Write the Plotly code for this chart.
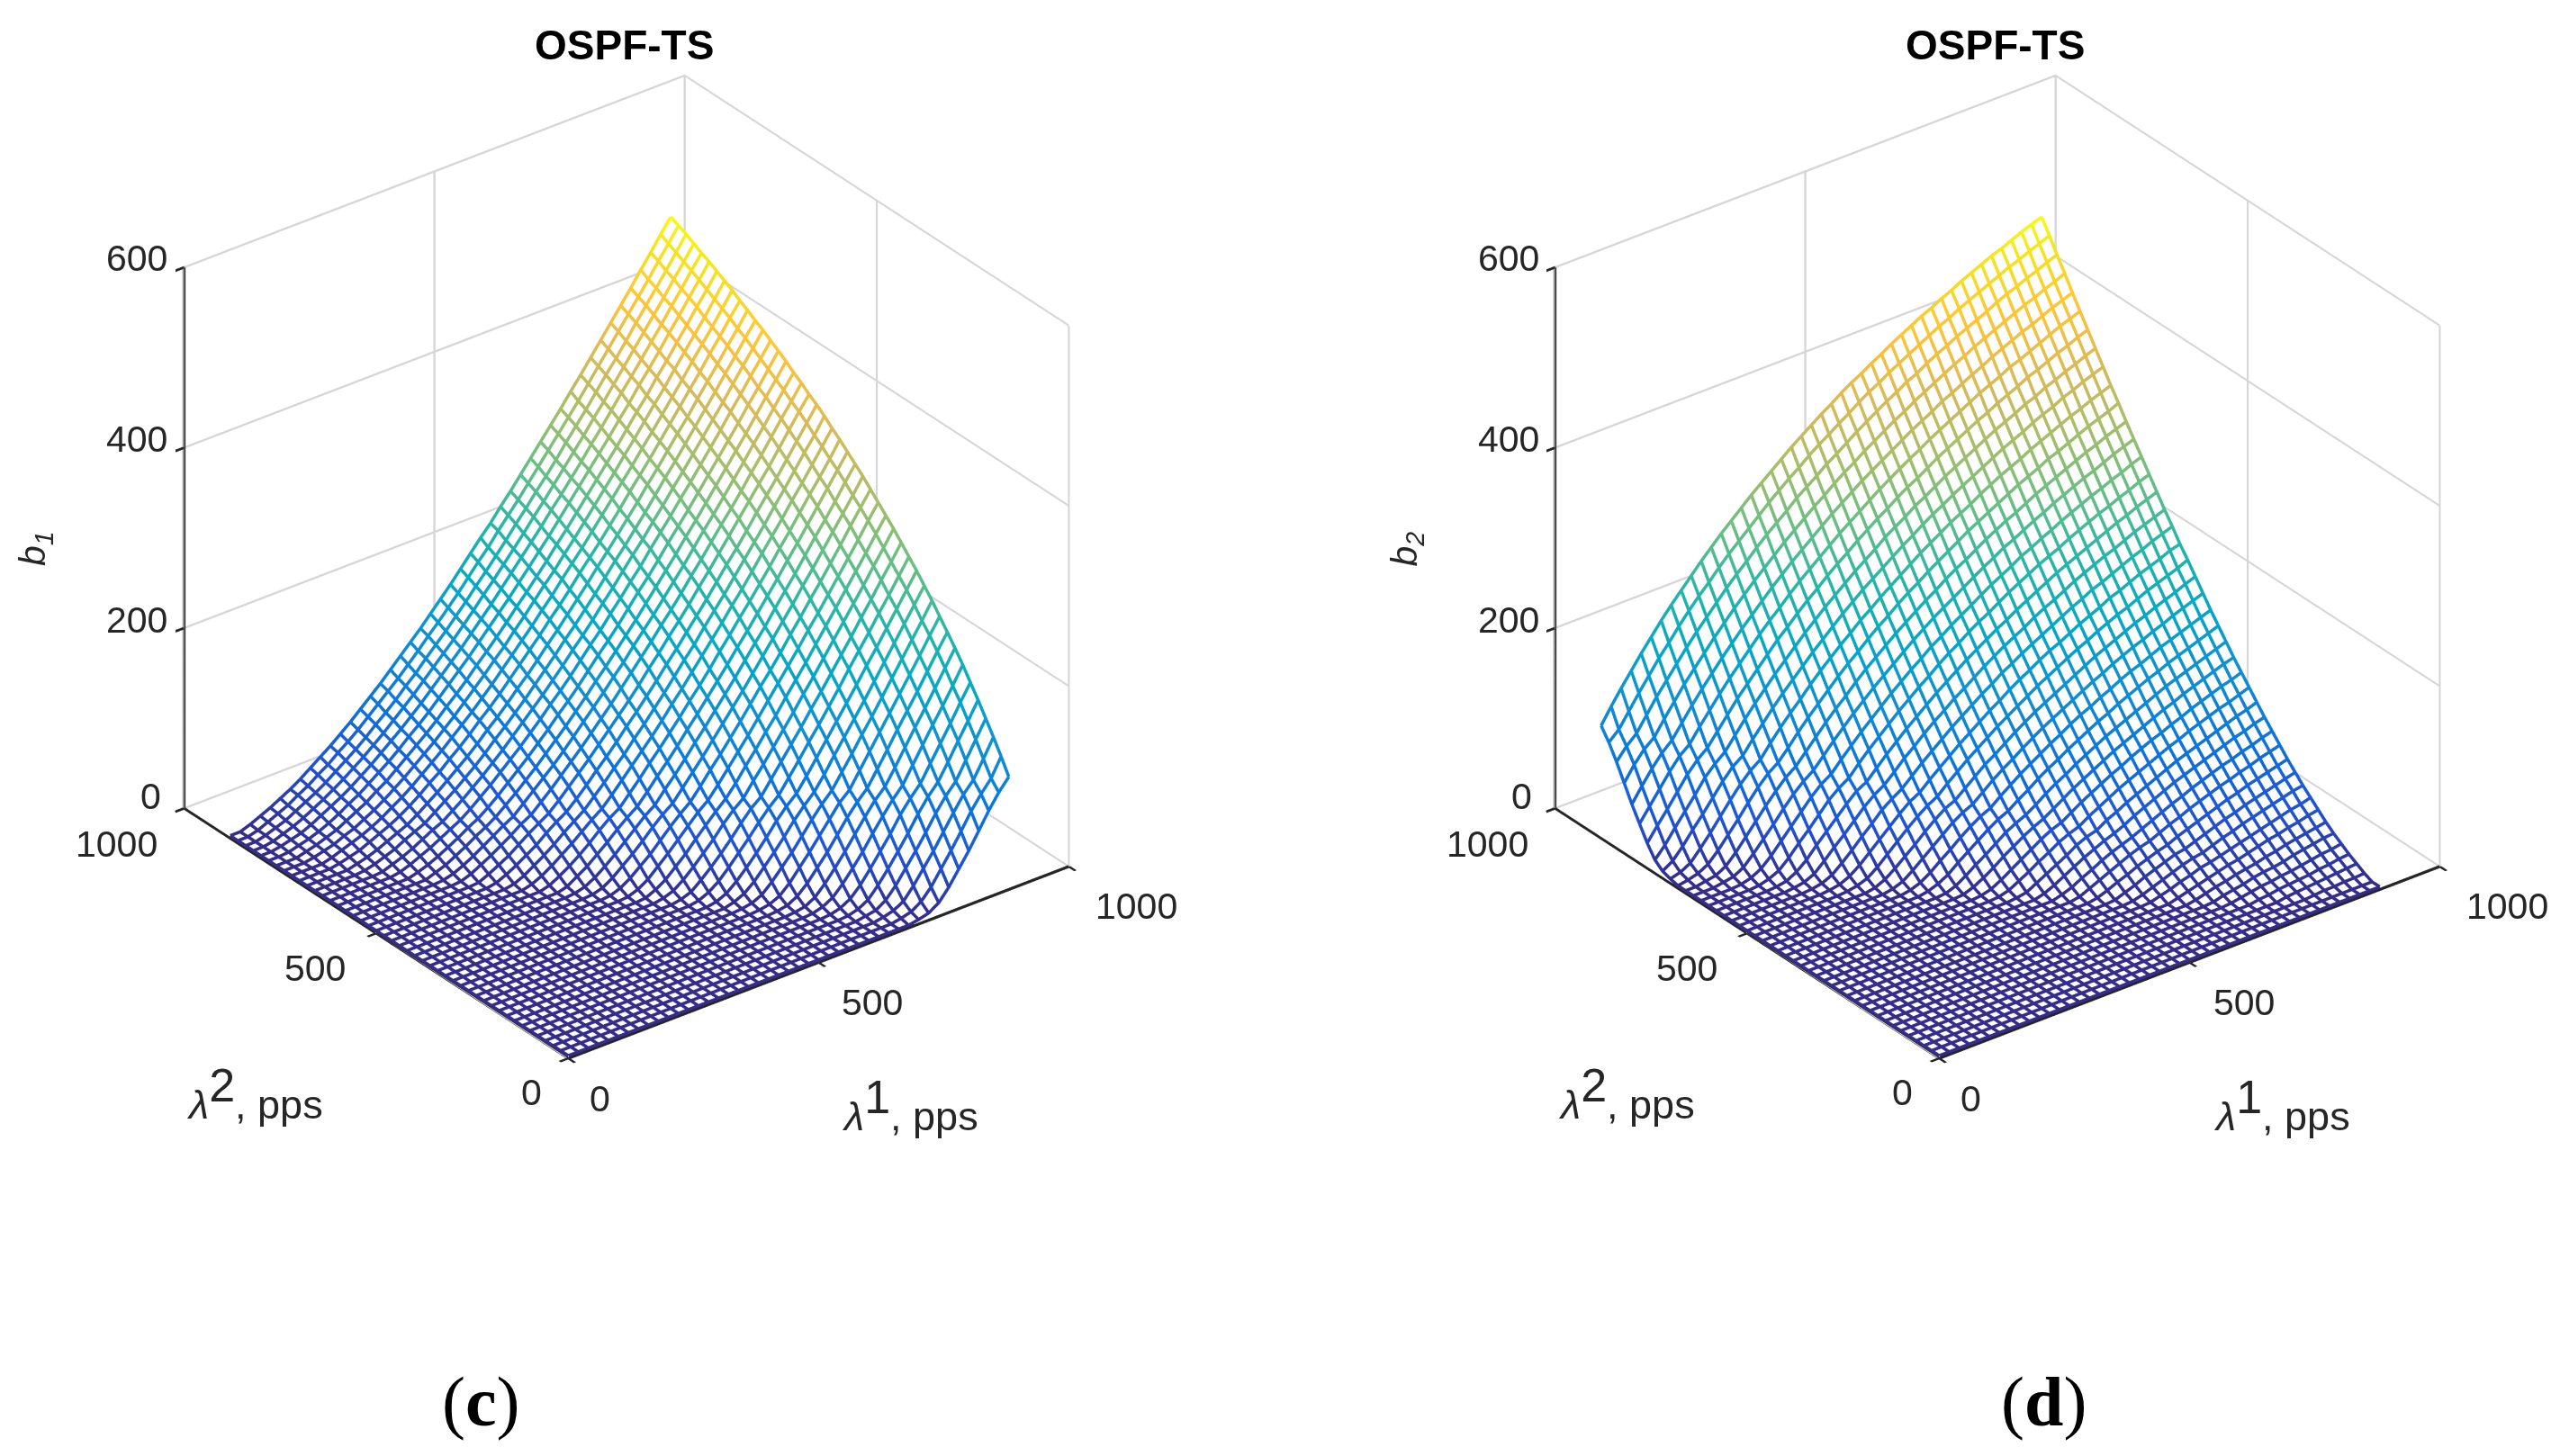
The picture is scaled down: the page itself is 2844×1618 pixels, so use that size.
import numpy as np
import plotly.graph_objects as go

# grid of offered loads, pps
lambda_1 = list(range(0, 900, 20))
lambda_2 = list(range(0, 900, 20))
FLOOR = 3

# b1, one row per lambda_2 value; each row gives the end of the row
# (towards lambda_1 = 880); everything before it lies on the flat floor of the surface.
b1_rows = [
[5,8,15,28,44,60,78,96,112,125],
[5,8,15,27,43,59,76,94,109,122,142],
[5,8,14,27,42,57,74,91,107,119,138,158],
[5,7,14,26,41,56,72,89,104,116,135,154,173],
[4,7,13,25,39,54,70,87,102,114,132,151,169,188],
[4,7,13,24,38,53,68,85,99,111,129,147,165,184,202],
[4,7,13,24,37,51,67,82,96,108,126,144,162,179,197,216],
[4,6,12,23,36,50,65,80,94,105,122,140,158,175,193,211,229],
[4,6,12,22,35,48,63,78,91,102,119,136,154,171,188,206,224,241],
[4,6,11,21,34,47,61,75,89,99,116,133,150,167,184,201,218,236,253],
[4,6,11,21,33,45,59,73,86,97,113,129,146,162,179,196,213,230,247,265],
[6,11,20,32,44,57,71,83,94,109,126,142,158,174,191,208,225,242,259,276],
[5,10,19,30,42,55,69,81,91,106,122,138,154,170,186,203,219,236,253,270,287],
[5,10,18,29,41,53,66,78,88,103,118,134,149,165,181,198,214,230,247,263,280,297],
[5,9,18,28,39,51,64,76,85,100,115,130,145,161,176,192,208,224,241,257,274,290,307],
[5,9,17,27,38,49,62,73,82,97,111,126,141,156,172,187,203,219,235,251,267,284,300,317],
[4,9,16,26,36,48,59,70,80,93,108,122,137,151,167,182,197,213,229,245,261,277,293,310,326],
[4,8,15,25,35,46,57,68,77,90,104,118,132,147,162,177,192,207,223,238,254,270,286,302,319,335],
[4,8,15,24,33,44,55,65,74,87,101,114,128,142,157,172,186,201,217,232,248,263,279,295,312,328,344],
[4,7,14,23,32,42,53,63,71,84,97,110,124,138,152,166,181,196,211,226,241,257,272,288,304,320,336,353],
[4,7,13,21,30,40,50,60,68,81,93,106,120,133,147,161,175,190,205,219,235,250,265,281,297,312,328,345,361],
[6,13,20,29,38,48,57,65,77,90,102,115,129,142,156,170,184,199,213,228,243,258,274,289,305,321,337,353,369],
[6,12,19,27,36,46,55,62,74,86,99,111,124,137,151,164,178,193,207,222,236,251,266,282,297,313,329,344,360,377],
[6,11,18,26,34,43,52,60,71,83,95,107,119,132,146,159,173,187,201,215,230,244,259,275,290,305,321,336,352,368,384],
[5,10,17,24,32,41,49,57,68,79,91,102,115,127,140,153,167,181,194,209,223,237,252,267,282,297,313,328,344,360,375,392],
[5,10,16,23,30,39,47,54,64,75,87,98,110,123,135,148,161,175,188,202,216,230,245,260,274,289,305,320,335,351,367,383,399],
[4,9,15,21,29,37,44,51,61,72,83,94,106,118,130,142,155,169,182,196,209,223,238,252,267,282,297,312,327,342,358,374,390,405],
[4,8,14,20,27,34,42,48,58,68,79,90,101,113,125,137,150,163,176,189,203,216,230,245,259,274,289,303,318,334,349,365,381,396,412],
[4,7,12,18,25,32,39,45,55,65,75,85,96,108,120,132,144,157,169,183,196,209,223,237,251,266,281,295,310,325,340,356,371,387,403,418],
[7,11,17,23,30,36,43,52,61,71,81,92,103,114,126,138,151,163,176,189,202,216,230,244,258,273,287,302,317,332,347,362,378,394,409,425],
[6,10,15,21,27,34,40,48,57,67,77,87,98,109,121,132,144,157,170,182,195,209,223,236,250,265,279,293,308,323,338,353,368,384,399,415,431],
[5,9,14,19,25,31,37,45,54,63,73,83,93,104,115,127,138,150,163,176,188,202,215,229,242,257,271,285,300,314,329,344,359,375,390,406,421,437],
[4,8,12,17,23,29,34,42,50,59,68,78,88,99,110,121,132,144,156,169,181,194,208,221,235,249,262,277,291,306,320,335,350,365,380,396,412,427,443],
[4,7,11,15,21,26,31,39,47,55,64,73,83,94,104,115,126,138,150,162,175,187,200,213,227,241,254,268,282,297,312,326,341,356,371,386,402,417,433,448],
[6,9,13,18,23,28,35,43,51,60,69,78,88,99,109,120,132,143,155,168,180,193,206,219,233,246,260,274,288,303,317,332,347,361,377,392,407,423,438,454],
[5,8,11,16,21,26,32,39,47,56,64,74,83,93,104,114,125,137,149,161,173,186,198,211,225,238,251,265,279,294,308,322,337,352,367,382,397,413,428,444,459],
[6,10,14,18,23,29,36,43,51,60,69,78,88,98,108,119,130,142,154,166,178,191,203,217,230,243,257,271,285,299,313,328,342,357,372,387,403,418,433,449,465],
[5,8,11,16,20,26,32,39,47,55,64,73,82,92,102,113,124,135,147,158,171,183,196,209,221,235,248,262,276,290,304,319,333,348,363,377,393,408,423,438,454,470],
[6,9,13,17,23,29,35,43,50,59,68,77,86,96,107,117,128,140,151,163,175,188,200,213,226,240,253,267,281,295,309,323,338,353,367,383,397,413,428,444,459,475],
[4,7,10,14,19,25,32,38,46,54,62,71,81,90,100,111,122,133,144,156,168,180,192,205,218,231,244,258,272,286,300,314,328,343,357,373,387,402,418,433,449,464,480],
[5,8,11,16,22,28,34,41,49,57,66,75,84,94,104,115,126,137,148,160,172,184,197,210,223,236,249,263,276,290,304,319,333,348,363,377,392,407,422,438,453,469,484],
[5,9,13,18,24,30,37,44,52,60,69,78,88,98,108,119,130,141,152,164,176,189,201,214,227,240,254,267,281,295,309,323,338,352,367,382,397,412,427,442,458,473,489],
[6,10,14,20,26,32,39,47,55,63,72,82,91,101,112,122,134,145,156,168,180,193,205,218,231,245,258,272,285,299,314,328,342,357,372,386,401,417,432,447,462,478,494],
[6,11,16,21,28,34,42,49,58,66,75,85,95,105,115,126,137,149,160,172,184,197,210,222,236,249,262,276,290,304,318,332,346,361,376,391,406,421,436,451,467,482,498],
[7,12,17,23,29,36,44,52,60,69,78,88,98,108,119,130,141,152,164,176,188,201,214,227,239,253,266,280,294,308,322,336,351,365,380,395,410,425,440,456,471,487,502],
]

x_ticks = [0, 500, 1000]
y_ticks = [0, 500, 1000]
z_ticks = [0, 200, 400, 600]

b1 = np.array([[FLOOR] * (len(lambda_1) - len(r)) + r for r in b1_rows], dtype=float)
b2 = b1.T  # panel (d) reads as the mirror of panel (c)

PARULA = [
    [0.000, "rgb(53,42,135)"], [0.095, "rgb(32,83,212)"], [0.190, "rgb(13,117,220)"],
    [0.286, "rgb(16,142,210)"], [0.381, "rgb(6,167,198)"], [0.476, "rgb(37,181,169)"],
    [0.571, "rgb(101,190,134)"], [0.667, "rgb(165,190,107)"], [0.762, "rgb(217,186,86)"],
    [0.857, "rgb(255,195,55)"], [0.952, "rgb(245,228,29)"], [1.000, "rgb(249,251,14)"],
]
WHITE = [[0, "white"], [1, "white"]]
FONT = "Liberation Sans"
INK = "#262626"
W, H = 2844, 1618


def mesh_traces(z, scene):
    xs, ys, zs = [], [], []
    for j, yv in enumerate(lambda_2):
        xs += lambda_1 + [None]
        ys += [yv] * len(lambda_1) + [None]
        zs += list(z[j]) + [None]
    for i, xv in enumerate(lambda_1):
        xs += [xv] * len(lambda_2) + [None]
        ys += lambda_2 + [None]
        zs += list(z[:, i]) + [None]
    colors = [0 if v is None else v for v in zs]
    return [
        go.Surface(x=lambda_1, y=lambda_2, z=z - 1.5, scene=scene, colorscale=WHITE, showscale=False,
                   lighting=dict(ambient=1, diffuse=0, specular=0, fresnel=0, roughness=1),
                   hoverinfo="skip"),
        go.Scatter3d(x=xs, y=ys, z=zs, scene=scene, mode="lines", hoverinfo="skip", showlegend=False,
                     line=dict(width=7, color=colors, colorscale=PARULA, cmin=0, cmax=502)),
    ]


def axis(rng, ticks):
    return dict(range=rng, tickmode="array", tickvals=ticks, showticklabels=False,
                title=dict(text=""), showbackground=False, showgrid=True, gridcolor="#d6d6d6",
                gridwidth=5, zeroline=False, showline=True, linecolor=INK, linewidth=7,
                ticks="outside", ticklen=12, tickwidth=6, tickcolor=INK, showspikes=False)


def scene_layout(domain_x):
    k = 1.127
    return dict(
        domain=dict(x=domain_x, y=[(H - 1244) / H, 1]),
        xaxis=axis([0, 1000], x_ticks), yaxis=axis([0, 1000], y_ticks), zaxis=axis([0, 600], z_ticks),
        aspectmode="manual", aspectratio=dict(x=k, y=k, z=0.99 * k),
        camera=dict(eye=dict(x=-0.947, y=-1.234, z=0.897), up=dict(x=0, y=0, z=1),
                    center=dict(x=0, y=0, z=0), projection=dict(type="orthographic")),
    )


def label(text, x, y, size=41, family=FONT, angle=0, color=INK):
    # x, y given in pixels of the 2844x1618 page
    return dict(text=text, x=x / W, y=1 - y / H, xref="paper", yref="paper", showarrow=False,
                xanchor="center", yanchor="middle", textangle=angle,
                font=dict(family=family, size=size, color=color))


def lam(n):
    return f'<i>λ</i><sup><span style="font-size:52px">{n}</span></sup>, pps'


# tick label anchors on the page, shown once per panel
tick_labels = [
    ("600", 144, 279), ("400", 144, 480), ("200", 144, 681), ("0", 159, 877),
    ("1000", 121, 930), ("500", 342, 1068), ("0", 582, 1206),
    ("0", 658, 1213), ("500", 961, 1106), ("1000", 1254, 999),
]

annotations = []
for dx, sub in [(0, "1"), (1523.6, "2")]:
    annotations += [
        label("<b>OSPF-TS</b>", 685 + dx, 42, size=46, color="black"),
        label(f"<i>b<sub>{sub}</sub></i>", 31 + dx, 602, angle=-90),
        label(lam(1), 1003 + dx, 1220, size=45),
        label(lam(2), 275 + dx, 1207, size=45),
    ]
    annotations += [label(t, px + dx, py) for t, px, py in tick_labels]
annotations += [
    label("(<b>c</b>)", 526, 1549, size=78, family="Liberation Serif", color="black"),
    label("(<b>d</b>)", 2262, 1549, size=78, family="Liberation Serif", color="black"),
]

fig = go.Figure(mesh_traces(b1, "scene") + mesh_traces(b2, "scene2"))
half = 622
fig.update_layout(
    width=W, height=H, margin=dict(l=0, r=0, t=0, b=0), paper_bgcolor="white", showlegend=False,
    scene=scene_layout([(687.5 - half) / W, (687.5 + half) / W]),
    scene2=scene_layout([(2211 - half) / W, (2211 + half) / W]),
    annotations=annotations,
)
fig.write_html("out.html")
